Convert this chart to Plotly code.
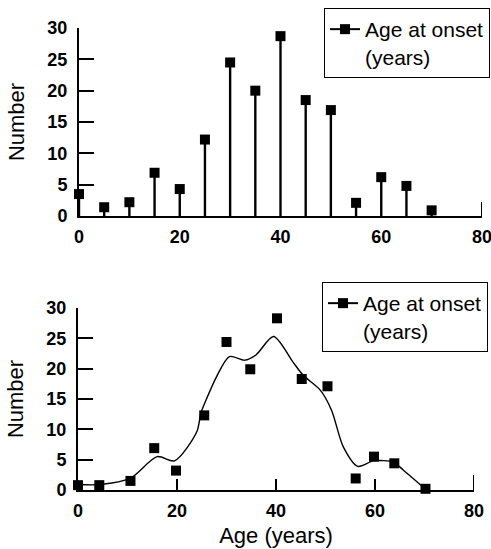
import plotly.graph_objects as go

# ---- data ----
top_age = [0, 5, 10, 15, 20, 25, 30, 35, 40, 45, 50, 55, 60, 65, 70]
top_number = [3.5, 1.4, 2.2, 6.9, 4.3, 12.2, 24.5, 20.0, 28.7, 18.5, 16.9, 2.1, 6.2, 4.8, 0.9]

bot_age = [0, 4.3, 10.6, 15.4, 19.8, 25.5, 30.0, 34.8, 40.2, 45.2, 50.4, 56.1, 59.8, 63.9, 70.2]
bot_number = [0.8, 0.8, 1.5, 6.9, 3.2, 12.3, 24.4, 19.9, 28.3, 18.3, 17.1, 1.9, 5.5, 4.4, 0.2]

curve_age = [0, 4.5, 10.5, 16.0, 19.5, 24.0, 24.8, 25.7, 28.0, 30.6, 33.7, 36.0, 39.5,
             43.5, 45.5, 48.9, 51.2, 53.6, 56.5, 59.7, 63.7, 65.7, 70.1]
curve_number = [0.9, 0.9, 1.9, 5.5, 4.8, 9.6, 12.6, 14.5, 18.7, 22.0, 21.4, 22.3, 25.3,
                21.0, 18.9, 16.5, 13.2, 7.1, 3.9, 4.8, 4.6, 3.3, 0.2]

x_ticks = [0, 20, 40, 60, 80]
y_ticks = [0, 5, 10, 15, 20, 25, 30]
legend_label = "Age at onset<br>(years)"

W, H = 491, 549
FONT = "Liberation Sans, Arial, sans-serif"
tickfont = dict(family=FONT, size=18, color="black", weight="bold")
titlefont = dict(family=FONT, size=22, color="black")
legendfont = dict(family=FONT, size=21, color="black")

fig = go.Figure()

# top: stems + markers
fig.add_trace(go.Scatter(
    x=top_age, y=top_number, mode="markers", xaxis="x", yaxis="y",
    marker=dict(symbol="square", size=10, color="black"),
    error_y=dict(type="data", symmetric=False, array=[0] * len(top_number),
                 arrayminus=top_number, width=0, thickness=2.4, color="black"),
    showlegend=False, cliponaxis=False))
fig.add_trace(go.Scatter(
    x=[None], y=[None], mode="lines+markers", xaxis="x", yaxis="y",
    name=legend_label, legend="legend",
    line=dict(color="black", width=2),
    marker=dict(symbol="square", size=10, color="black")))

# bottom: smooth curve + markers
fig.add_trace(go.Scatter(
    x=curve_age, y=curve_number, mode="lines", xaxis="x2", yaxis="y2",
    line=dict(color="black", width=1.4, shape="spline", smoothing=0.8),
    showlegend=False))
fig.add_trace(go.Scatter(
    x=bot_age, y=bot_number, mode="markers", xaxis="x2", yaxis="y2",
    marker=dict(symbol="square", size=10, color="black"),
    showlegend=False, cliponaxis=False))
fig.add_trace(go.Scatter(
    x=[None], y=[None], mode="lines+markers", xaxis="x2", yaxis="y2",
    name=legend_label, legend="legend2",
    line=dict(color="black", width=2),
    marker=dict(symbol="square", size=10, color="black")))

def xax(domain, anchor, ticks, title=None):
    d = dict(domain=domain, anchor=anchor, range=[0, 80], tickvals=x_ticks,
             showgrid=False, zeroline=False, showline=True, linecolor="black",
             linewidth=2, ticks=ticks, ticklen=11, tickwidth=2, tickcolor="black",
             tickfont=tickfont, ticklabelstandoff=3, automargin=False,
             ticklabeloverflow="allow")
    if title:
        d["title"] = dict(text=title, font=titlefont, standoff=8)
    return d

def yax(domain, anchor):
    return dict(domain=domain, anchor=anchor, range=[0, 30], tickvals=y_ticks,
                showgrid=False, zeroline=False, showline=True, linecolor="black",
                linewidth=2, ticks="inside", ticklen=15, tickwidth=2, tickcolor="black",
                tickfont=tickfont, ticklabelstandoff=6, automargin=False,
                ticklabeloverflow="allow",
                title=dict(text="Number", font=titlefont, standoff=17))

fig.update_layout(
    width=W, height=H, margin=dict(l=0, r=0, t=0, b=0),
    paper_bgcolor="white", plot_bgcolor="white",
    xaxis=xax([79 / W, 482 / W], "y", ""),
    yaxis=yax([1 - 216 / H, 1 - 28 / H], "x"),
    xaxis2=xax([78 / W, 474 / W], "y2", "inside", "Age (years)"),
    yaxis2=yax([1 - 490 / H, 1 - 308 / H], "x2"),
    legend=dict(x=490 / W, y=1 - 8 / H, xanchor="right", yanchor="top",
                bordercolor="black", borderwidth=1, bgcolor="white",
                font=legendfont, valign="top", itemwidth=30),
    legend2=dict(x=488 / W, y=1 - 282 / H, xanchor="right", yanchor="top",
                 bordercolor="black", borderwidth=1, bgcolor="white",
                 font=legendfont, valign="top", itemwidth=30),
    shapes=[dict(type="line", xref="x", yref="y domain", x0=80, x1=80, y0=0,
                 y1=14 / 188, line=dict(color="black", width=2)),
            dict(type="line", xref="x2", yref="y2 domain", x0=80, x1=80, y0=0,
                 y1=15 / 182, line=dict(color="black", width=2))],
)

fig.write_html("out.html")
